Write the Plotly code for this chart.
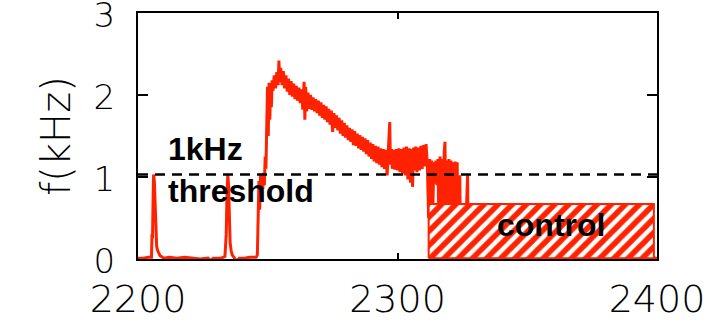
import plotly.graph_objects as go

# ---- data ----
time_x = [
    2200.0, 2202.0, 2204.0, 2205.2, 2205.4, 2205.6, 2205.8, 2206.0, 2206.3, 2206.6, 2206.9,
    2207.2, 2207.6, 2208.0, 2208.5, 2209.0, 2210.0, 2212.0, 2215.0, 2218.0, 2221.0, 2224.0,
    2227.0, 2228.0, 2229.0, 2232.0, 2233.5, 2234.0, 2234.3, 2234.6, 2234.9, 2235.2, 2235.5,
    2235.9, 2236.3, 2237.0, 2238.0, 2239.0, 2241.0, 2243.0, 2245.0, 2245.5, 2246.0,
    2246.3, 2246.6, 2246.9, 2247.2, 2247.5, 2247.8, 2248.1, 2248.4, 2248.7, 2249.0, 2249.3,
    2249.6, 2249.9, 2250.2, 2250.5, 2250.8, 2251.1, 2251.4, 2251.7, 2252.0,
    2252.5, 2253.0, 2253.5, 2254.0, 2254.3, 2254.6, 2255.0, 2255.5, 2256.0, 2256.5, 2257.0,
    2257.5, 2258.0, 2258.5, 2259.0, 2259.5, 2260.0, 2260.5, 2261.0, 2261.5, 2262.0, 2262.5,
    2263.0, 2263.5, 2264.0, 2264.3, 2264.6, 2265.0, 2265.5, 2266.0, 2266.5, 2267.0, 2267.5,
    2268.0, 2268.5, 2269.0, 2269.5, 2270.0, 2270.5, 2271.0, 2271.5, 2272.0, 2272.5, 2273.0,
    2273.5, 2274.0, 2274.5, 2275.0, 2275.5, 2276.0, 2276.5, 2277.0, 2277.5, 2278.0, 2278.5,
    2279.0, 2279.5, 2280.0, 2280.5, 2281.0, 2281.5, 2282.0, 2282.5, 2283.0, 2283.5, 2284.0,
    2284.5, 2285.0, 2285.5, 2286.0, 2286.5, 2287.0, 2287.5, 2288.0, 2288.5, 2289.0, 2289.5,
    2290.0, 2290.5, 2291.0, 2291.5, 2292.0, 2292.5, 2293.0, 2293.5, 2294.0, 2294.5, 2295.0,
    2295.5, 2296.0, 2296.5, 2297.0, 2297.3, 2297.7, 2298.0, 2298.5, 2299.0, 2299.5, 2300.0,
    2300.5, 2301.0, 2301.5, 2302.0, 2302.5, 2303.0, 2303.5, 2304.0, 2304.5, 2305.0, 2305.5,
    2305.8, 2306.2, 2306.5, 2307.0, 2307.5, 2308.0, 2308.5, 2309.0, 2309.5, 2310.0, 2310.5,
    2311.0, 2311.5, 2312.0, 2312.4, 2312.8, 2313.2, 2313.6, 2314.0, 2314.4, 2314.8, 2315.2,
    2315.6, 2316.0, 2316.4, 2316.8, 2317.2, 2317.6, 2318.0, 2318.3, 2318.6, 2319.0, 2319.4,
    2319.8, 2320.2, 2320.6, 2321.0, 2321.4, 2321.8, 2322.2, 2322.6, 2323.0, 2323.3, 2323.6,
    2324.0, 2324.3, 2325.0, 2326.0, 2327.0, 2327.3, 2328.0, 2332.0, 2336.0, 2340.0, 2345.0,
    2350.0, 2355.0, 2360.0, 2365.0, 2370.0, 2375.0, 2380.0, 2385.0, 2390.0, 2395.0, 2400.0,
]
freq_khz = [
    0.01, 0.01, 0.02, 0.02, 0.30, 0.25, 0.70, 1.03, 0.95, 0.60, 0.30,
    0.15, 0.10, 0.06, 0.04, 0.03, 0.01, 0.02, 0.01, 0.02, 0.01, 0.00,
    0.01, -0.02, 0.01, 0.01, 0.03, 0.30, 0.80, 1.03, 0.90, 0.50, 0.20,
    0.10, 0.05, 0.02, -0.03, 0.01, 0.01, 0.02, 0.02, 0.02, 0.05,
    0.45, 0.95, 0.60, 1.02, 0.75, 1.00, 0.85, 1.05, 0.90, 1.25, 1.10,
    1.50, 2.10, 1.50, 2.15, 1.70, 2.12, 1.85, 2.18, 2.05,
    2.24, 2.08, 2.28, 2.12, 2.42, 2.16, 2.33, 2.12, 2.29, 2.08, 2.24,
    2.04, 2.20, 2.00, 2.17, 1.98, 2.14, 1.95, 2.11, 1.93, 2.09, 1.90,
    2.07, 1.82, 2.16, 1.70, 2.10, 1.80, 2.03, 1.83, 2.00, 1.82, 1.97,
    1.80, 1.95, 1.78, 1.93, 1.75, 1.91, 1.72, 1.88, 1.70, 1.86, 1.67,
    1.83, 1.64, 1.81, 1.55, 1.78, 1.60, 1.75, 1.57, 1.72, 1.53, 1.69,
    1.50, 1.66, 1.48, 1.63, 1.45, 1.60, 1.43, 1.58, 1.39, 1.56, 1.38,
    1.53, 1.35, 1.51, 1.33, 1.49, 1.31, 1.47, 1.28, 1.45, 1.25, 1.42,
    1.22, 1.40, 1.19, 1.38, 1.17, 1.37, 1.15, 1.35, 1.12, 1.34, 1.10,
    1.33, 1.02, 1.32, 1.67, 1.15, 1.34, 1.10, 1.33, 1.09, 1.34, 1.08,
    1.35, 1.06, 1.34, 1.04, 1.36, 1.02, 1.37, 0.97, 1.35, 0.93, 1.34,
    0.88, 1.36, 1.08, 1.37, 1.06, 1.36, 1.08, 1.38, 1.10, 1.39, 1.13,
    1.40, 1.15, 0.50, 1.22, 0.40, 1.20, 0.60, 1.18, 0.92, 1.20, 0.90,
    1.22, 0.30, 1.25, 0.40, 1.22, 0.30, 1.30, 1.43, 0.35, 1.20, 0.30,
    1.22, 0.25, 1.20, 0.30, 1.18, 0.20, 1.19, 0.25, 1.18, 0.10, 0.05,
    1.02, 0.05, 0.03, 0.05, 1.02, 0.05, 0.02, 0.01, 0.02, -0.02, 0.01,
    0.02, -0.02, 0.01, 0.02, -0.02, 0.01, 0.02, -0.02, 0.01, 0.02, 0.01,
]
threshold_khz = 1.03
control_x = [2312.0, 2398.8]
control_f = [0.01, 0.67]
x_ticks = [2200, 2300, 2400]
y_ticks = [0, 1, 2, 3]

RED = "#ff2200"

fig = go.Figure()
fig.add_trace(go.Scatter(
    x=time_x, y=freq_khz, mode="lines",
    line=dict(color=RED, width=3), showlegend=False,
))
# hatched control box
fig.add_trace(go.Scatter(
    x=[control_x[0], control_x[1], control_x[1], control_x[0], control_x[0]],
    y=[control_f[0], control_f[0], control_f[1], control_f[1], control_f[0]],
    mode="lines", fill="toself",
    fillcolor="white",
    fillpattern=dict(shape="/", fgcolor=RED, bgcolor="white", size=10, solidity=0.55, fgopacity=1),
    line=dict(color=RED, width=2), showlegend=False,
))
fig.add_hline(y=threshold_khz, line=dict(color="black", width=2.5, dash="10px,7px"), layer="above")

bold = dict(family="Liberation Sans, Arial, sans-serif", size=32, color="black", weight="bold")
fig.add_annotation(x=2210.8, y=1.34, text="1kHz", showarrow=False, xanchor="left", yanchor="middle", font=bold)
fig.add_annotation(x=2210.8, y=0.83, text="threshold", showarrow=False, xanchor="left", yanchor="middle", font=bold)
fig.add_annotation(x=2359.2, y=0.41, text="control", showarrow=False, xanchor="center", yanchor="middle", font=bold)

thin_x = dict(family="DejaVu Sans, sans-serif", size=38, color="black", weight=200)
thin_y = dict(family="DejaVu Sans, sans-serif", size=34, color="black", weight=200)
fig.update_xaxes(
    range=[2200, 2400], tickvals=x_ticks, ticktext=[str(v) for v in x_ticks],
    showline=True, linecolor="black", linewidth=2, mirror="ticks",
    ticks="inside", ticklen=6, tickwidth=2, tickcolor="black",
    showgrid=False, zeroline=False, tickfont=thin_x, ticklabelstandoff=5,
    ticklabeloverflow="allow", automargin=False,
)
fig.update_yaxes(
    range=[0, 3], tickvals=y_ticks, ticktext=[str(v) for v in y_ticks],
    showline=True, linecolor="black", linewidth=2, mirror="ticks",
    ticks="inside", ticklen=10, tickwidth=2, tickcolor="black",
    showgrid=False, zeroline=False, tickfont=thin_y, ticklabelstandoff=14,
    ticklabelshift=2,
    ticklabeloverflow="allow", automargin=False,
    title=dict(text="f(kHz)", font=dict(family="DejaVu Sans, sans-serif", size=40, color="black", weight=200), standoff=11),
)
fig.update_layout(
    width=725, height=324, margin=dict(l=138, r=68, t=13, b=65, autoexpand=False),
    plot_bgcolor="white", paper_bgcolor="white",
)
fig.write_html("out.html")
